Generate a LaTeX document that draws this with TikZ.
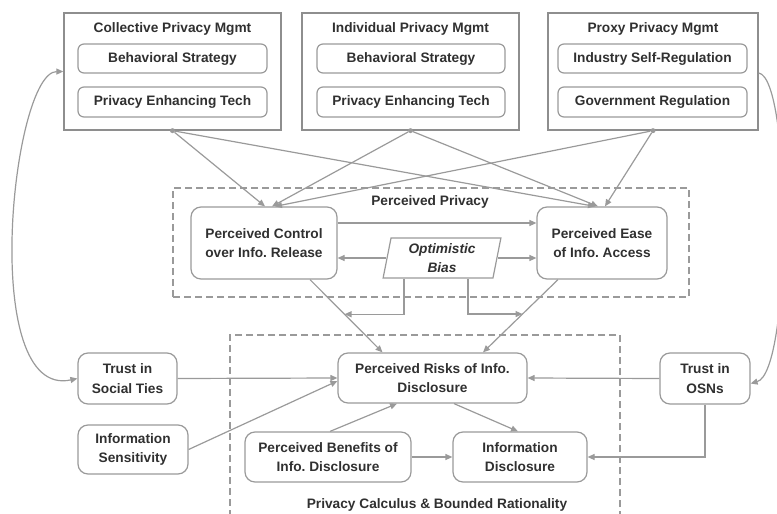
\documentclass[tikz,border=0pt]{standalone}
\usepackage{fontspec}
\setmainfont{Liberation Sans}
\usetikzlibrary{shapes.geometric,arrows.meta,calc}
\definecolor{ln}{HTML}{9A9A9A}
\definecolor{lo}{HTML}{8E8E8E}
\definecolor{tx}{HTML}{303030}
\frenchspacing
\begin{document}
\begin{tikzpicture}[x=1pt,y=-1pt,
  every node/.style={font=\fontsize{13.7}{19.5}\selectfont\bfseries, text=tx, align=center, inner sep=0pt},
  outerbox/.style={draw=lo, line width=1.3pt},
  box/.style={draw=ln, line width=1.2pt, rounded corners=6pt},
  pbox/.style={draw=ln, line width=1.2pt, rounded corners=10pt},
  grp/.style={draw=ln, line width=1.2pt, dash pattern=on 7pt off 4pt},
  arr/.style={draw=ln, line width=1.2pt, -{Triangle[length=7pt,width=6pt]}},
  dot/.style={circle, fill=ln, minimum size=5pt}]
\useasboundingbox (0,0) rectangle (777,514);

% management boxes
\node[outerbox, minimum width=217pt, minimum height=117pt] (coll) at (172.5,71.5) {};
\node (collt) at (172.5,29) {Collective Privacy Mgmt};
\node[box, minimum width=189pt, minimum height=29pt] (coll1) at (172.5,58.5) {Behavioral Strategy};
\node[box, minimum width=189pt, minimum height=30pt] (coll2) at (172.5,102) {Privacy Enhancing Tech};

\node[outerbox, minimum width=217pt, minimum height=117pt] (indiv) at (410.5,71.5) {};
\node (indivt) at (410.5,29) {Individual Privacy Mgmt};
\node[box, minimum width=188pt, minimum height=29pt] (indiv1) at (411,58.5) {Behavioral Strategy};
\node[box, minimum width=188pt, minimum height=30pt] (indiv2) at (411,102) {Privacy Enhancing Tech};

\node[outerbox, minimum width=210pt, minimum height=117pt] (proxy) at (653,71.5) {};
\node (proxyt) at (653,29) {Proxy Privacy Mgmt};
\node[box, minimum width=189pt, minimum height=29pt] (proxy1) at (652.5,58.5) {Industry Self-Regulation};
\node[box, minimum width=189pt, minimum height=30pt] (proxy2) at (652.5,102) {Government Regulation};

\node[dot] (d1) at (coll.south) {};
\node[dot] (d2) at (indiv.south) {};
\node[dot] (d3) at (proxy.south) {};

% perceived privacy group
\node[grp, minimum width=516pt, minimum height=109pt] (pp) at (431,242.5) {};
\node (ppt) at (430,202) {Perceived Privacy};
\node[pbox, minimum width=146pt, minimum height=72pt] (control) at (264,243) {Perceived Control\\over Info. Release};
\node[pbox, minimum width=130pt, minimum height=72pt] (ease) at (602,243) {Perceived Ease\\of Info. Access};
\node[draw=ln, line width=1.2pt, trapezium, trapezium left angle=80, trapezium right angle=100,
      trapezium stretches=true, minimum width=118pt, minimum height=40pt,
      font=\fontsize{13.7}{19.5}\selectfont\bfseries\itshape] (bias) at (442,258) {Optimistic\\Bias};

% privacy calculus group
\node[grp, minimum width=390pt, minimum height=200pt] (pc) at (425,435) {};
\node (pct) at (437,505) {Privacy Calculus \& Bounded Rationality};
\node[pbox, minimum width=189pt, minimum height=50pt] (risks) at (432.5,378) {Perceived Risks of Info.\\Disclosure};
\node[pbox, minimum width=166pt, minimum height=50pt] (ben) at (328,457) {Perceived Benefits of\\Info. Disclosure};
\node[pbox, minimum width=134pt, minimum height=50pt] (disc) at (520,457) {Information\\Disclosure};

% outside nodes
\node[pbox, minimum width=99pt, minimum height=51pt] (ties) at (127.5,378.5) {Trust in\\Social Ties};
\node[pbox, minimum width=110pt, minimum height=49pt] (sens) at (133,449.5) {Information\\Sensitivity};
\node[pbox, minimum width=90pt, minimum height=51pt] (osn) at (705,378.5) {Trust in\\OSNs};

% top arrows
\draw[arr] (d1) -- ([xshift=1pt]control.north);
\draw[arr] (d2) -- ([xshift=8pt]control.north);
\draw[arr] (d3) -- ([xshift=11pt]control.north);
\draw[arr] (d1) -- ([xshift=-7pt]ease.north);
\draw[arr] (d2) -- ([xshift=-4pt]ease.north);
\draw[arr] (d3) -- ([xshift=3pt]ease.north);

% within perceived privacy
\draw[arr] ([yshift=20pt]control.east) -- ([yshift=20pt]ease.west);
\draw[arr] (bias.west) -- (bias.west -| control.east);
\draw[arr] (bias.east) -- (bias.east -| ease.west);

% to risks
\coordinate (cs) at ([xshift=46pt]control.south);
\coordinate (rn1) at ([xshift=-50pt]risks.north);
\coordinate (es) at ([xshift=-44pt]ease.south);
\coordinate (rn2) at ([xshift=50.5pt]risks.north);
\draw[arr] (cs) -- (rn1);
\draw[arr] (es) -- (rn2);
\coordinate (m1) at ($(cs)!0.476!(rn1)$);
\coordinate (m2) at ($(es)!0.473!(rn2)$);
\draw[arr] ([xshift=-38pt]bias.south) |- (m1);
\draw[arr] ([xshift=26pt]bias.south) |- (m2);

\draw[arr] (ties.east) -- (risks.west);
\draw[arr] (sens.east) -- ([yshift=-3pt]risks.west);
\draw[arr] ([xshift=2pt]ben.north) -- ([xshift=-35.5pt]risks.south);
\draw[arr] ([xshift=21.5pt]risks.south) -- ([xshift=-2pt]disc.north);
\draw[arr] (ben.east) -- (disc.west);
\draw[arr] (osn.west) -- (risks.east);
\draw[arr] (osn.south) |- (disc.east);

% curves
\draw[draw=ln, line width=1.2pt, {Triangle[length=7pt,width=6pt]}-{Triangle[length=7pt,width=6pt]}]
  (ties.west) .. controls (-22,400) and (12,72) .. (coll.west);
\draw[arr] ([yshift=-1.5pt]proxy.east) .. controls (792,78) and (792,372) .. ([yshift=-5pt]osn.east);
\end{tikzpicture}
\end{document}
